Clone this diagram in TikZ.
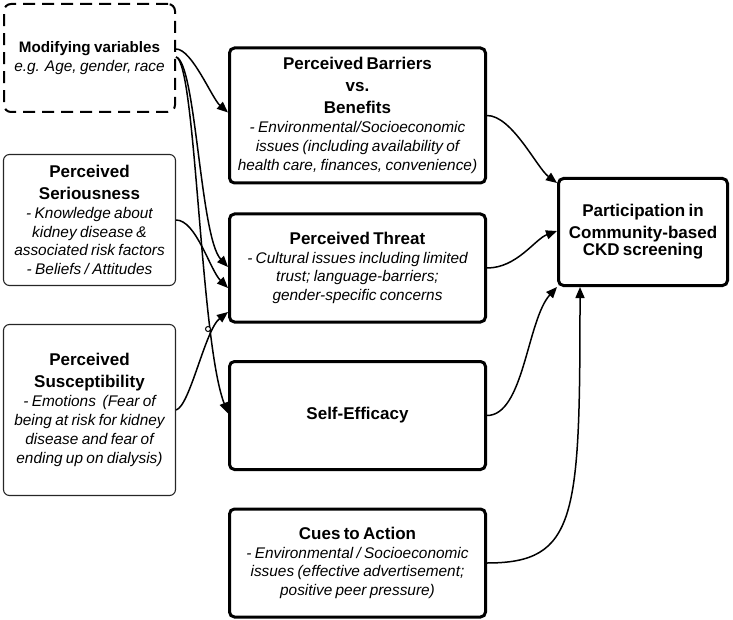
\documentclass[tikz,border=0pt]{standalone}
\usepackage{fontspec}
\setmainfont{Liberation Sans}
\usepackage{xcolor}
\usepackage{tikz}
\usetikzlibrary{arrows.meta}

\newcommand\boxtitle{\fontsize{17}{22}\selectfont\bfseries}
\newcommand\boxnote{\fontsize{15.4}{18.8}\selectfont\itshape}

\tikzset{
  mainbox/.style={draw, line width=3pt, rounded corners=5pt, minimum width=256pt, text width=254pt, align=center, inner sep=0pt},
  sidebox/.style={draw=black!85, line width=1.1pt, rounded corners=6pt, minimum width=172pt, text width=170pt, align=center, inner sep=0pt},
  modbox/.style={draw, line width=2pt, dash pattern=on 12pt off 7pt, rounded corners=7pt, minimum width=171pt, minimum height=108pt, text width=170pt, align=center, inner sep=0pt},
  link/.style={line width=1.5pt, -{Triangle[length=11pt,width=9pt]}}
}

\begin{document}
\begin{tikzpicture}[x=1pt, y=-1pt]
\useasboundingbox (0,0) rectangle (733,620);

% left column
\node[modbox] (mod) at (89.5,58) {{\fontsize{15.2}{20}\selectfont\bfseries Modifying variables\par}{\boxnote e.g. Age, gender, race\par}};
\node[sidebox, minimum height=131pt] (ser) at (89.5,220) {{\boxtitle Perceived\\ Seriousness\par}{\boxnote - Knowledge about\\ kidney disease \&\\ associated risk factors\\ - Beliefs / Attitudes\par}};
\node[sidebox, minimum height=171pt] (sus) at (89.5,410) {{\boxtitle Perceived\\ Susceptibility\par}{\boxnote - Emotions\ \ (Fear of\\ being at risk for kidney\\ disease and fear of\\ ending up on dialysis)\par}};

% middle column
\node[mainbox, minimum height=135pt] (bar) at (357.5,115.5) {{\boxtitle Perceived Barriers\\ vs.\\ Benefits\par}{\boxnote - Environmental/Socioeconomic\\ issues (including availability of\\ health care, finances, convenience)\par}};
\node[mainbox, minimum height=108pt] (thr) at (357.5,268) {{\boxtitle Perceived Threat\par}{\boxnote - Cultural issues including limited\\ trust; language-barriers;\\ gender-specific concerns\par}};
\node[mainbox, minimum height=108pt] (eff) at (357.5,415.5) {\boxtitle Self-Efficacy};
\node[mainbox, minimum height=108pt] (cue) at (357.5,563) {{\boxtitle Cues to Action\par}{\boxnote - Environmental / Socioeconomic\\ issues (effective advertisement;\\ positive peer pressure)\par}};

% right
\node[mainbox, minimum width=169pt, text width=168pt, minimum height=107pt] (par) at (643,232) {\boxtitle Participation in\\ Community-based\\ CKD screening};

% arrows into the middle column
\draw[link] ([yshift=9pt]mod.east) .. controls +(16,0) and +(-16,-14) .. ([yshift=3pt]bar.west);
\draw[link] ([yshift=1pt]mod.east) .. controls +(20,5) and +(-28,-30) .. ([yshift=1pt]thr.west);
\draw[link] ([yshift=1pt]mod.east) .. controls +(20,5) and +(-28,-73) .. ([yshift=2pt]eff.west);
\draw[link] (ser.east) .. controls +(20,0) and +(-18,-18) .. ([yshift=-20pt]thr.west);
\draw[link] (sus.east) .. controls +(14,-4) and +(-23,18) .. ([yshift=-44pt]thr.west);
\draw[line width=1pt, fill=white] (208,329) circle (2.5pt);

% arrows into participation
\draw[link] (bar.east) .. controls +(25,0) and +(-20,-15) .. ([yshift=49pt]par.west);
\draw[link] (thr.east) .. controls +(30,0) and +(-22,8) .. ([yshift=1pt]par.west);
\draw[link] (eff.east) .. controls +(37,0) and +(-30,33) .. (par.south west);
\draw[link] (cue.east) .. controls +(90,0) and +(0,230) .. ([xshift=23pt]par.south west);
\end{tikzpicture}
\end{document}
